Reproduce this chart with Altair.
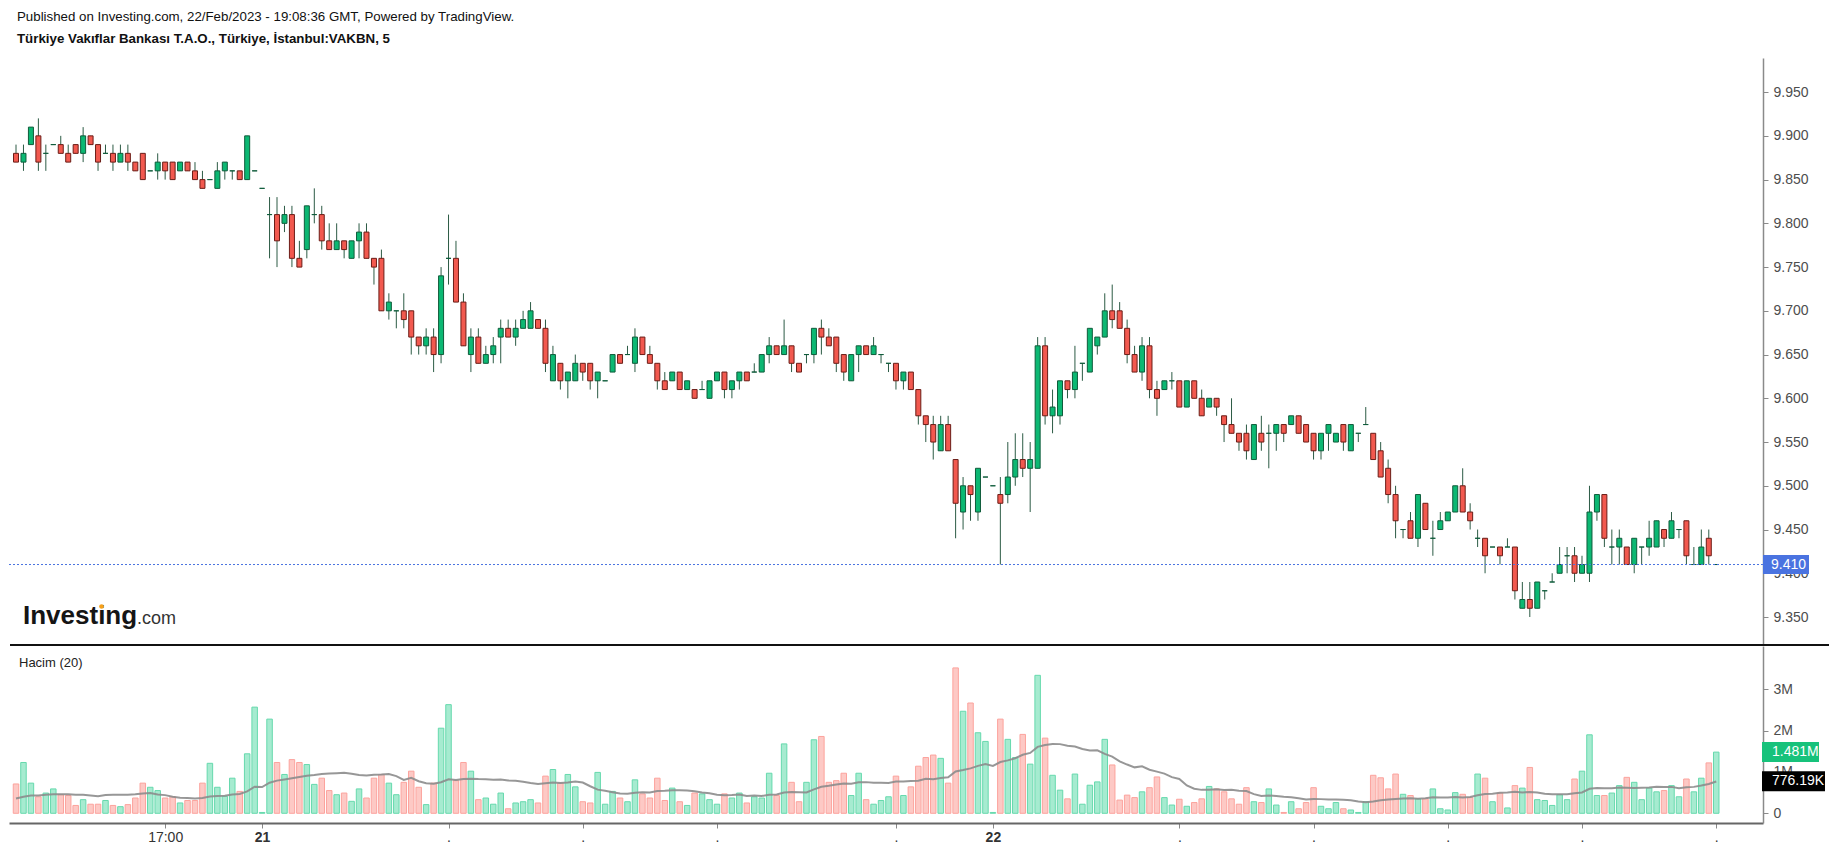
import altair as alt
import pandas as pd

# ---------------- data ----------------
OPEN = [9.88,9.87,9.89,9.90,9.88,9.89,9.89,9.88,9.89,9.88,9.90,9.89,9.88,9.88,9.87,9.88,9.87,9.88,9.86,9.86,
        9.87,9.87,9.86,9.87,9.86,9.85,9.85,9.84,9.86,9.86,9.86,9.85,9.86,9.84,9.81,9.81,9.80,9.81,9.76,9.77,
        9.81,9.81,9.78,9.77,9.78,9.76,9.78,9.79,9.76,9.76,9.70,9.70,9.70,9.70,9.67,9.66,9.67,9.65,9.76,9.76,
        9.71,9.65,9.67,9.64,9.65,9.67,9.68,9.67,9.68,9.68,9.69,9.68,9.62,9.64,9.62,9.62,9.64,9.64,9.62,9.62,
        9.63,9.65,9.65,9.64,9.67,9.65,9.64,9.62,9.62,9.63,9.61,9.61,9.61,9.60,9.62,9.63,9.61,9.62,9.63,9.63,
        9.63,9.65,9.66,9.65,9.66,9.64,9.65,9.65,9.68,9.67,9.67,9.65,9.62,9.65,9.66,9.65,9.65,9.64,9.64,9.62,
        9.63,9.61,9.58,9.57,9.54,9.57,9.53,9.47,9.50,9.47,9.51,9.50,9.49,9.49,9.51,9.53,9.52,9.52,9.66,9.58,
        9.58,9.62,9.61,9.64,9.63,9.66,9.67,9.70,9.70,9.68,9.65,9.63,9.66,9.61,9.61,9.62,9.62,9.59,9.62,9.60,
        9.59,9.60,9.58,9.57,9.56,9.56,9.53,9.56,9.56,9.56,9.57,9.57,9.58,9.57,9.56,9.54,9.56,9.55,9.57,9.54,
        9.56,9.57,9.56,9.54,9.52,9.49,9.45,9.46,9.44,9.48,9.44,9.45,9.46,9.47,9.50,9.47,9.44,9.44,9.43,9.43,
        9.43,9.43,9.36,9.37,9.36,9.38,9.39,9.40,9.42,9.42,9.40,9.40,9.47,9.49,9.43,9.43,9.43,9.41,9.43,9.43,
        9.43,9.45,9.44,9.45,9.46,9.41,9.41,9.44,9.41]
HIGH = [9.89,9.89,9.91,9.92,9.89,9.89,9.90,9.89,9.89,9.91,9.90,9.89,9.89,9.89,9.89,9.89,9.87,9.88,9.86,9.88,
        9.87,9.87,9.87,9.87,9.87,9.86,9.85,9.87,9.87,9.86,9.86,9.90,9.86,9.84,9.83,9.83,9.82,9.82,9.78,9.82,
        9.84,9.82,9.80,9.80,9.78,9.78,9.80,9.80,9.76,9.77,9.72,9.70,9.72,9.70,9.67,9.68,9.68,9.75,9.81,9.78,
        9.72,9.68,9.68,9.66,9.67,9.69,9.69,9.69,9.70,9.71,9.69,9.69,9.66,9.64,9.63,9.65,9.64,9.64,9.63,9.62,
        9.65,9.65,9.66,9.68,9.67,9.66,9.64,9.63,9.63,9.63,9.62,9.61,9.62,9.62,9.63,9.63,9.62,9.63,9.63,9.64,
        9.65,9.67,9.66,9.69,9.66,9.64,9.65,9.68,9.69,9.68,9.67,9.65,9.65,9.66,9.66,9.67,9.65,9.64,9.64,9.63,
        9.63,9.61,9.58,9.58,9.58,9.58,9.53,9.51,9.50,9.52,9.51,9.50,9.51,9.55,9.56,9.56,9.55,9.67,9.67,9.61,
        9.62,9.62,9.66,9.64,9.68,9.67,9.72,9.73,9.71,9.69,9.66,9.67,9.67,9.62,9.62,9.63,9.62,9.62,9.62,9.61,
        9.60,9.60,9.58,9.60,9.56,9.57,9.57,9.58,9.57,9.57,9.57,9.58,9.58,9.57,9.56,9.56,9.57,9.56,9.57,9.57,
        9.56,9.59,9.56,9.55,9.53,9.50,9.45,9.47,9.49,9.48,9.46,9.47,9.47,9.50,9.52,9.48,9.45,9.44,9.43,9.43,
        9.44,9.43,9.39,9.39,9.39,9.38,9.40,9.43,9.43,9.43,9.42,9.50,9.49,9.49,9.45,9.45,9.43,9.44,9.43,9.46,
        9.46,9.45,9.47,9.45,9.46,9.43,9.45,9.45,9.41]
LOW = [9.87,9.86,9.89,9.86,9.86,9.89,9.88,9.87,9.88,9.87,9.89,9.86,9.88,9.86,9.87,9.86,9.86,9.85,9.86,9.85,
       9.85,9.85,9.86,9.86,9.85,9.84,9.85,9.84,9.85,9.85,9.85,9.85,9.86,9.84,9.76,9.75,9.79,9.75,9.75,9.76,
       9.80,9.77,9.77,9.77,9.76,9.76,9.76,9.76,9.73,9.70,9.69,9.68,9.68,9.65,9.65,9.65,9.63,9.64,9.73,9.71,
       9.66,9.63,9.64,9.64,9.64,9.64,9.67,9.66,9.68,9.68,9.68,9.63,9.62,9.61,9.60,9.62,9.62,9.61,9.60,9.62,
       9.63,9.64,9.65,9.63,9.65,9.64,9.61,9.61,9.62,9.61,9.61,9.60,9.61,9.60,9.62,9.60,9.60,9.61,9.62,9.63,
       9.63,9.64,9.65,9.65,9.63,9.63,9.64,9.64,9.65,9.66,9.63,9.62,9.62,9.63,9.65,9.65,9.64,9.63,9.61,9.61,
       9.61,9.57,9.55,9.53,9.54,9.54,9.44,9.45,9.46,9.46,9.51,9.50,9.41,9.48,9.50,9.51,9.47,9.52,9.57,9.56,
       9.57,9.60,9.60,9.62,9.63,9.65,9.67,9.68,9.68,9.64,9.63,9.62,9.60,9.58,9.61,9.61,9.59,9.59,9.60,9.58,
       9.59,9.58,9.55,9.56,9.54,9.53,9.53,9.54,9.52,9.54,9.55,9.57,9.56,9.55,9.53,9.53,9.54,9.55,9.54,9.54,
       9.55,9.57,9.53,9.51,9.48,9.44,9.44,9.44,9.43,9.45,9.42,9.45,9.46,9.47,9.47,9.45,9.43,9.40,9.43,9.41,
       9.43,9.37,9.36,9.35,9.36,9.37,9.39,9.40,9.40,9.39,9.40,9.39,9.46,9.43,9.41,9.41,9.41,9.40,9.41,9.42,
       9.43,9.43,9.44,9.44,9.41,9.41,9.41,9.41,9.41]
CLOSE = [9.87,9.88,9.91,9.87,9.88,9.89,9.88,9.87,9.88,9.90,9.89,9.87,9.88,9.87,9.88,9.87,9.86,9.85,9.86,9.87,
         9.86,9.85,9.87,9.86,9.85,9.84,9.85,9.86,9.87,9.86,9.85,9.90,9.86,9.84,9.81,9.78,9.81,9.76,9.75,9.82,
         9.81,9.78,9.77,9.78,9.77,9.78,9.79,9.76,9.75,9.70,9.71,9.70,9.69,9.67,9.66,9.67,9.65,9.74,9.76,9.71,
         9.66,9.67,9.64,9.65,9.66,9.68,9.67,9.68,9.69,9.70,9.68,9.64,9.65,9.62,9.63,9.64,9.63,9.62,9.63,9.62,
         9.65,9.64,9.65,9.67,9.65,9.64,9.62,9.61,9.63,9.61,9.62,9.60,9.61,9.62,9.63,9.61,9.62,9.63,9.62,9.63,
         9.65,9.66,9.65,9.66,9.64,9.63,9.65,9.68,9.67,9.66,9.64,9.63,9.65,9.66,9.65,9.66,9.65,9.64,9.62,9.63,
         9.61,9.58,9.57,9.55,9.57,9.54,9.48,9.50,9.49,9.52,9.51,9.50,9.48,9.51,9.53,9.52,9.53,9.66,9.58,9.59,
         9.62,9.61,9.63,9.64,9.68,9.67,9.70,9.69,9.68,9.65,9.63,9.66,9.61,9.60,9.62,9.62,9.59,9.62,9.60,9.58,
         9.60,9.59,9.57,9.56,9.55,9.54,9.57,9.55,9.56,9.57,9.56,9.58,9.56,9.55,9.54,9.56,9.57,9.56,9.55,9.57,
         9.56,9.57,9.53,9.51,9.49,9.46,9.45,9.44,9.49,9.45,9.44,9.46,9.47,9.50,9.47,9.46,9.44,9.42,9.43,9.42,
         9.43,9.38,9.37,9.36,9.39,9.38,9.39,9.41,9.42,9.40,9.41,9.47,9.49,9.44,9.43,9.44,9.41,9.44,9.43,9.44,
         9.46,9.44,9.46,9.45,9.42,9.41,9.43,9.42,9.41]
VOLUME_M = [0.71,1.23,0.73,0.40,0.49,0.59,0.45,0.43,0.19,0.33,0.22,0.22,0.31,0.19,0.16,0.21,0.37,0.73,0.63,0.55,
            0.37,0.40,0.25,0.31,0.31,0.73,1.21,0.63,0.41,0.85,0.53,1.44,2.57,0.02,2.28,1.23,0.94,1.30,1.23,1.18,
            0.70,0.85,0.55,0.45,0.49,0.29,0.59,0.37,0.85,0.94,0.73,0.45,0.75,1.02,0.63,0.21,0.73,2.06,2.63,0.79,
            1.23,1.02,0.33,0.37,0.22,0.49,0.11,0.25,0.28,0.33,0.25,0.90,1.06,0.73,0.94,0.64,0.28,0.25,0.99,0.22,
            0.53,0.37,0.28,0.81,0.47,0.37,0.85,0.31,0.61,0.28,0.19,0.49,0.47,0.33,0.22,0.47,0.37,0.49,0.25,0.40,
            0.37,0.97,0.43,1.68,0.75,0.28,0.75,1.78,1.86,0.75,0.79,0.97,0.43,0.97,0.33,0.22,0.31,0.40,0.90,0.43,
            0.64,1.14,1.35,1.41,1.33,0.73,3.52,2.47,2.67,1.95,1.74,0.02,2.28,1.79,1.35,1.91,1.19,3.34,1.82,0.92,
            0.56,0.35,0.95,0.22,0.68,0.76,1.79,1.17,0.32,0.44,0.38,0.52,0.62,0.88,0.38,0.20,0.34,0.17,0.26,0.35,
            0.65,0.59,0.52,0.35,0.22,0.62,0.28,0.26,0.59,0.20,0.02,0.28,0.11,0.26,0.62,0.17,0.11,0.26,0.11,0.08,
            0.02,0.28,0.92,0.86,0.59,0.95,0.46,0.43,0.35,0.35,0.59,0.11,0.08,0.50,0.46,0.38,0.95,0.85,0.28,0.49,
            0.13,0.67,0.61,1.11,0.33,0.31,0.19,0.45,0.33,0.83,1.02,1.90,0.43,0.43,0.49,0.67,0.87,0.75,0.33,0.61,
            0.52,0.55,0.67,0.40,0.83,0.52,0.85,1.22,1.481]
# Volume MA(20) as drawn for the first 19 bars (earlier bars are off-chart)
MA_HEAD_M = [0.36,0.40,0.43,0.43,0.45,0.46,0.46,0.46,0.45,0.45,0.43,0.41,0.44,0.45,0.45,0.45,0.46,0.48,0.49]

TICK_IDX = [20, 33, 58, 76, 94, 118, 131, 156, 174, 192, 210, 228]
TICK_TEXT = ["17:00", "21", ".", ".", ".", ".", "22", ".", ".", ".", ".", "."]
PRICE_TICKS = [9.35, 9.40, 9.45, 9.50, 9.55, 9.60, 9.65, 9.70, 9.75, 9.80, 9.85, 9.90, 9.95]
VOL_TICKS = [0, 1, 2, 3]
LAST_PRICE = 9.41
LAST_VOL_M = 1.481
VOL_MA_M = 0.77619

HEADER1 = "Published on Investing.com, 22/Feb/2023 - 19:08:36 GMT, Powered by TradingView."
HEADER2 = "Türkiye Vakıflar Bankası T.A.O., Türkiye, İstanbul:VAKBN, 5"
VOL_TITLE = "Hacim (20)"

# ---------------- styling ----------------
FONT = "Liberation Sans"
W = 1754
PRICE_H = 587
VOL_H = 177
UP = "#0cb873"
UP_BORDER = "#0f5c3b"
DOWN = "#f2594f"
DOWN_BORDER = "#6b1d17"
WICK = "#2c5b45"
VUP = "#a6ebd0"
VUP_S = "#66d9ad"
VDN = "#fdc9c5"
VDN_S = "#fca39d"
BLUE = "#4a73e0"

n = len(OPEN)
df = pd.DataFrame({"i": list(range(n)), "o": OPEN, "h": HIGH, "l": LOW,
                   "c": CLOSE, "v": VOLUME_M,
                   "mh": MA_HEAD_M + [None] * (n - len(MA_HEAD_M))})
one = pd.DataFrame({"k": [0]})

xscale = alt.Scale(domain=[-0.27, 233.6], nice=False, zero=False)
x_noaxis = alt.X("i:Q", scale=xscale, axis=None)

pscale = alt.Scale(domain=[9.318, 9.989], nice=False, zero=False)
paxis = alt.Axis(orient="right", values=PRICE_TICKS, format=".3f", title=None, grid=False,
                 tickSize=5, labelPadding=5, domainColor="#8a8a8a", tickColor="#8a8a8a",
                 labelColor="#4d4d4d", labelFont=FONT, labelFontSize=14, domainWidth=1.5)

base = alt.Chart(df).transform_calculate(up="datum.c >= datum.o")

wick = base.mark_rule(strokeWidth=1, clip=True, color=WICK).encode(
    x=x_noaxis,
    y=alt.Y("l:Q", scale=pscale, axis=paxis),
    y2="h:Q",
)
body = base.mark_bar(size=5, strokeWidth=1, clip=True).encode(
    x=x_noaxis,
    y=alt.Y("o:Q", scale=pscale),
    y2="c:Q",
    fill=alt.condition("datum.up", alt.value(UP), alt.value(DOWN)),
    stroke=alt.condition("datum.up", alt.value(UP_BORDER), alt.value(DOWN_BORDER)),
)

annot = alt.Chart(one)
lp = annot.transform_calculate(p=str(LAST_PRICE))
last_line = lp.mark_rule(color=BLUE, strokeDash=[2, 2], strokeWidth=1).encode(
    y=alt.Y("p:Q", scale=pscale))
last_box = lp.mark_rect(color=BLUE, yOffset=-9.5, y2Offset=9.5).encode(
    x=alt.value(W), x2=alt.value(W + 46),
    y=alt.Y("p:Q", scale=pscale), y2="p:Q")
last_txt = lp.mark_text(align="left", baseline="middle", color="white", font=FONT,
                        fontSize=14).encode(
    x=alt.value(W + 8), y=alt.Y("p:Q", scale=pscale), text=alt.value("9.410"))

h1 = annot.mark_text(align="left", baseline="alphabetic", font=FONT, fontSize=13.3,
                     color="#111").encode(x=alt.value(8), y=alt.value(-37.5), text=alt.value(HEADER1))
h2 = annot.mark_text(align="left", baseline="alphabetic", font=FONT, fontSize=13.3,
                     fontWeight="bold", color="#111").encode(
    x=alt.value(8), y=alt.value(-15), text=alt.value(HEADER2))
topguard = annot.mark_rule(color="white", strokeWidth=1).encode(
    x=alt.value(600), x2=alt.value(601), y=alt.value(-57.5), y2=alt.value(-57))
logo1 = annot.mark_text(align="left", baseline="alphabetic", font=FONT, fontSize=26,
                        fontWeight="bold", color="#151515").encode(
    x=alt.value(14), y=alt.value(566), text=alt.value("Investing"))
logo_dot = annot.mark_point(filled=True, size=22, color="#f6a01a", opacity=1).encode(
    x=alt.value(92.6), y=alt.value(548.5))
logo2 = annot.mark_text(align="left", baseline="alphabetic", font=FONT, fontSize=18,
                        color="#333333").encode(
    x=alt.value(128), y=alt.value(566), text=alt.value(".com"))
sep = annot.mark_rule(color="#111111", strokeWidth=2).encode(
    x=alt.value(1), x2=alt.value(1820), y=alt.value(PRICE_H))

price = alt.layer(wick, body, last_line, last_box, last_txt, h1, h2, topguard,
                  logo1, logo_dot, logo2, sep).properties(width=W, height=PRICE_H)

# ---------------- volume pane ----------------
label_expr = " : ".join(
    f"datum.value == {t} ? '{s}'" for t, s in zip(TICK_IDX, TICK_TEXT)) + " : ''"
xaxis = alt.Axis(values=TICK_IDX, labelExpr=label_expr, title=None, grid=False,
                 tickSize=5, labelPadding=2, domainColor="#666666", tickColor="#888888",
                 domainWidth=2, labelColor="#333333", labelFont=FONT, labelFontSize=14,
                 labelFontWeight={"expr": "datum.value == 33 || datum.value == 131 ? 'bold' : 'normal'"})
vscale = alt.Scale(domain=[-0.235, 4.05], nice=False, zero=False)
vaxis = alt.Axis(orient="right", values=VOL_TICKS, title=None, grid=False,
                 labelExpr="datum.value == 0 ? '0' : datum.value + 'M'",
                 tickSize=5, labelPadding=5, domainColor="#8a8a8a", tickColor="#8a8a8a",
                 labelColor="#4d4d4d", labelFont=FONT, labelFontSize=14, domainWidth=1.5)

vbars = base.mark_bar(size=5.5, strokeWidth=1, clip=True).encode(
    x=alt.X("i:Q", scale=xscale, axis=xaxis),
    y=alt.Y("v:Q", scale=vscale, axis=vaxis),
    y2=alt.datum(0),
    fill=alt.condition("datum.up", alt.value(VUP), alt.value(VDN)),
    stroke=alt.condition("datum.up", alt.value(VUP_S), alt.value(VDN_S)),
)
ma = alt.Chart(df).transform_window(
    ma="mean(v)", frame=[-19, 0], sort=[alt.SortField("i")]
).transform_calculate(
    mav=f"datum.i < {len(MA_HEAD_M)} ? datum.mh : datum.ma"
).mark_line(color="#8c8c8c", strokeWidth=2, opacity=0.9, clip=True).encode(
    x=alt.X("i:Q", scale=xscale), y=alt.Y("mav:Q", scale=vscale))

vtitle = annot.mark_text(align="left", baseline="alphabetic", font=FONT, fontSize=13,
                         color="#222222").encode(x=alt.value(10), y=alt.value(21),
                                                 text=alt.value(VOL_TITLE))
lv = annot.transform_calculate(p=str(LAST_VOL_M))
vbox1 = lv.mark_rect(color="#17c27b", yOffset=-10, y2Offset=10).encode(
    x=alt.value(W - 1), x2=alt.value(W + 56),
    y=alt.Y("p:Q", scale=vscale), y2="p:Q")
vtxt1 = lv.mark_text(align="left", baseline="middle", color="white", font=FONT,
                     fontSize=14).encode(x=alt.value(W + 9), y=alt.Y("p:Q", scale=vscale),
                                         text=alt.value("1.481M"))
mv = annot.transform_calculate(p=str(VOL_MA_M))
vbox2 = mv.mark_rect(color="#000000", yOffset=-10, y2Offset=10).encode(
    x=alt.value(W - 1), x2=alt.value(W + 62),
    y=alt.Y("p:Q", scale=vscale), y2="p:Q")
vtxt2 = mv.mark_text(align="left", baseline="middle", color="white", font=FONT,
                     fontSize=14).encode(x=alt.value(W + 9), y=alt.Y("p:Q", scale=vscale),
                                         text=alt.value("776.19K"))

volume = alt.layer(vbars, ma, vtitle, vbox1, vtxt1, vbox2, vtxt2).properties(width=W, height=VOL_H)

chart = alt.vconcat(price, volume, spacing=1, bounds="flush").properties(
    padding={"left": 8, "top": 0, "right": 0, "bottom": 0}
).configure(background="white").configure_view(strokeWidth=0)

chart.save("out.html", embed_options={"renderer": "svg", "actions": False})
